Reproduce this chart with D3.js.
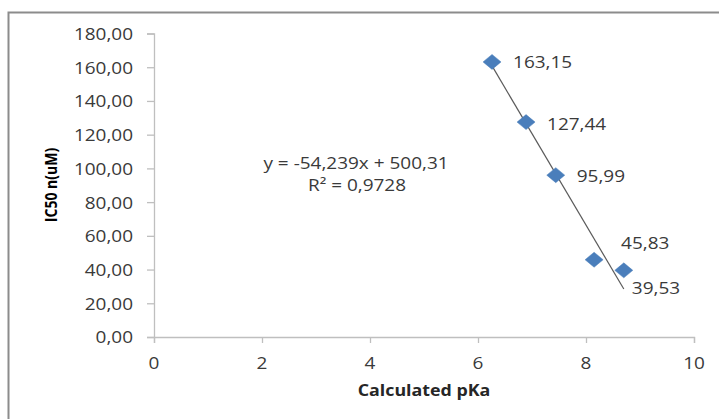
<!DOCTYPE html>
<html><head><meta charset="utf-8">
<script src="https://cdn.jsdelivr.net/npm/d3@7"></script>
<style>body{margin:0;background:#fff}svg{display:block}</style>
</head><body>
<script>
const pKa = [6.26, 6.89, 7.44, 8.15, 8.70];
const ic50 = [163.15, 127.44, 95.99, 45.83, 39.53];
const pointLabels = ["163,15", "127,44", "95,99", "45,83", "39,53"];
const yTicks = [0, 20, 40, 60, 80, 100, 120, 140, 160, 180];
const xTicks = [0, 2, 4, 6, 8, 10];
const slope = -54.239, intercept = 500.31;
const eqLines = ["y = -54,239x + 500,31", "R² = 0,9728"];

const W = 719, H = 419;
const svg = d3.select("body").append("svg").attr("width", W).attr("height", H);
svg.append("rect").attr("x", 8.5).attr("y", 12.5).attr("width", 730).attr("height", 430)
  .attr("fill", "#fff").attr("stroke", "#8c8c8c").attr("stroke-width", 2);

const x = d3.scaleLinear().domain([0, 10]).range([154, 694]);
const y = d3.scaleLinear().domain([0, 180]).range([337, 33.5]);
const font = "'Open Sans', sans-serif";
const sx = 1.15;
const txtCol = "#3a3a3a";

function label(g, tx, ty, s, anchor, size, weight, col) {
  g.append("text").attr("transform", `translate(${tx},${ty}) scale(${sx},1)`)
    .attr("text-anchor", anchor).attr("dominant-baseline", "central")
    .attr("font-family", font).attr("font-size", size).attr("font-weight", weight || 500)
    .attr("fill", col || txtCol).text(s);
}

// axes
const yAxis = svg.append("g").attr("transform", `translate(${x(0)},0)`)
  .call(d3.axisLeft(y).tickValues(yTicks).tickSize(7).tickFormat(""));
const xAxis = svg.append("g").attr("transform", `translate(0,${y(0)})`)
  .call(d3.axisBottom(x).tickValues(xTicks).tickSize(6).tickFormat(""));
[yAxis, xAxis].forEach(a => {
  a.selectAll("path").attr("stroke", "#bfbfbf").attr("stroke-width", 1.3);
  a.selectAll("line").attr("stroke", "#bfbfbf").attr("stroke-width", 1.3);
});
const tl = svg.append("g");
yTicks.forEach(v => label(tl, 133, y(v), d3.format(".2f")(v).replace(".", ","), "end", 16.5));
xTicks.forEach(v => label(tl, x(v), 363, String(v), "middle", 16.5));

label(svg, 424, 390, "Calculated pKa", "middle", 15.5, "bold", "#262626");
svg.append("text").attr("transform", `translate(51,185) rotate(-90) scale(0.85,1)`)
  .attr("text-anchor", "middle").attr("dominant-baseline", "central")
  .attr("font-family", font).attr("font-size", 16.5).attr("font-weight", "bold")
  .attr("fill", "#000").text("IC50 n(uM)");

// trendline
const xMin = d3.min(pKa), xMax = d3.max(pKa);
svg.append("line")
  .attr("x1", x(xMin)).attr("y1", y(slope * xMin + intercept))
  .attr("x2", x(xMax)).attr("y2", y(slope * xMax + intercept))
  .attr("stroke", "#5a5a5a").attr("stroke-width", 1.2);

// points
const diamond = "M0,-7.5L9,0L0,7.5L-9,0Z";
svg.append("g").selectAll("path").data(pKa).join("path")
  .attr("d", diamond).attr("transform", (d, i) => `translate(${x(d)},${y(ic50[i])})`)
  .attr("fill", "#4a7ebb").attr("stroke", "#4a7ebb").attr("stroke-width", 0.5);

// point labels
const offs = [[21, 0], [21, 1], [21, 0], [27, -17], [8, 17]];
const pl = svg.append("g");
pKa.forEach((d, i) => label(pl, x(d) + offs[i][0], y(ic50[i]) + offs[i][1], pointLabels[i], "start", 16.5));

// equation
label(svg, 356, 163, eqLines[0], "middle", 16.5);
label(svg, 357, 185, eqLines[1], "middle", 16.5);
</script>
</body></html>
